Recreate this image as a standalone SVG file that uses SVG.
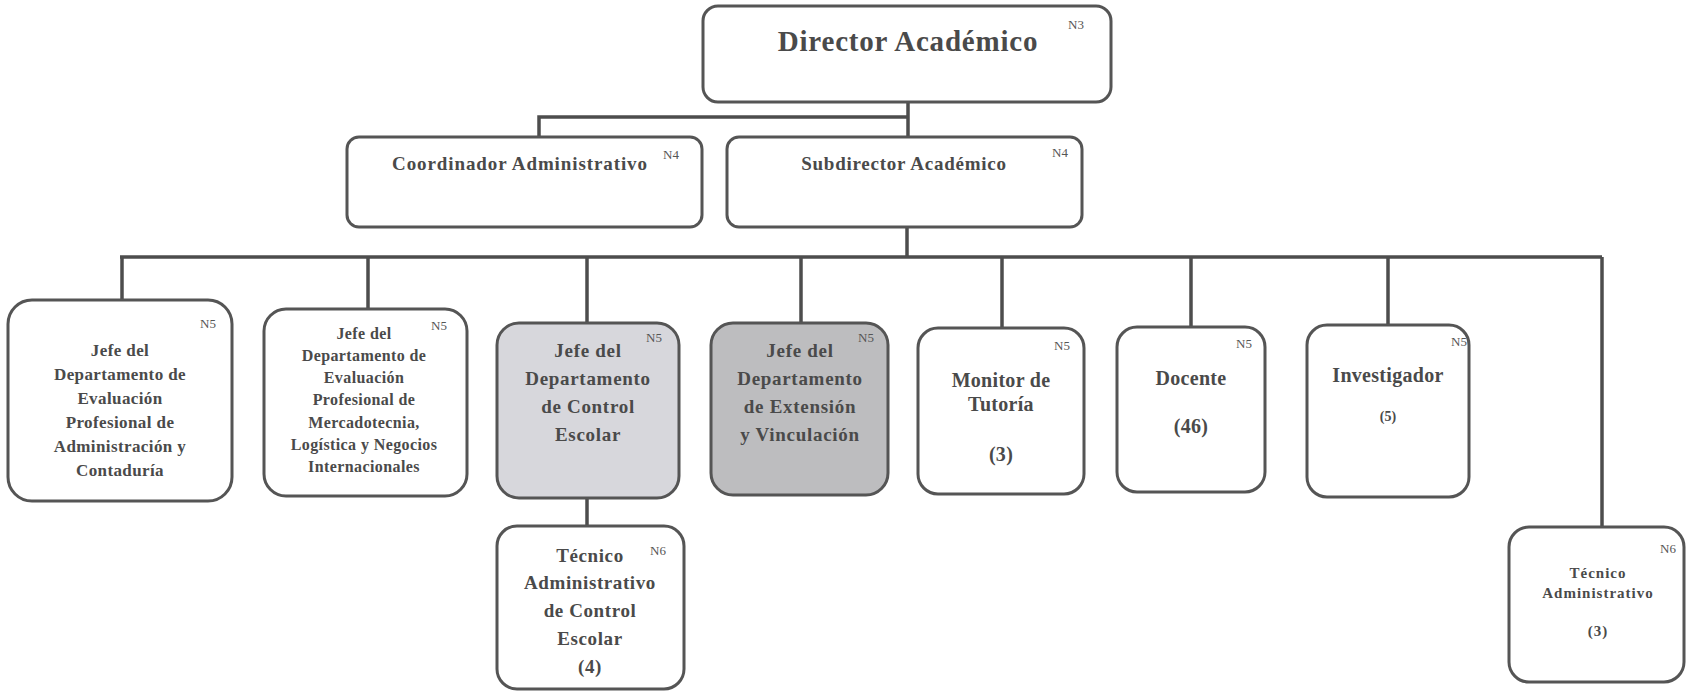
<svg xmlns="http://www.w3.org/2000/svg" width="1686" height="691" viewBox="0 0 1686 691">
<style>
.box{fill:#ffffff;stroke:#555555;stroke-width:3}
.g1{fill:#d7d7dc}
.g2{fill:#bdbdbf}
.t{font-family:"Liberation Serif","Times New Roman",serif;font-weight:bold;fill:#4a4a4a;text-anchor:middle}
.n{font-family:"Liberation Serif","Times New Roman",serif;font-size:13px;fill:#555555}
.c{fill:none;stroke:#4d4d4d;stroke-width:3.5}
</style>
<rect width="1686" height="691" fill="#ffffff"/>
<g id="connectors">
<path class="c" d="M908 102 V137 M908 117 H539 V137"/>
<path class="c" d="M907 227 V257 M120 257 H1602 M122 257 V301 M368 257 V309 M587 257 V323 M801 257 V323 M1002 257 V328 M1191 257 V327 M1388 257 V325 M1602 257 V527"/>
<path class="c" d="M587 498 V526"/>
</g>
<g id="director">
<rect class="box" x="703" y="6" width="408" height="96" rx="15"/>
<text class="t" x="908" y="51" font-size="29" letter-spacing="0.8">Director Académico</text>
<text class="n" x="1068" y="29">N3</text>
</g>
<g id="coordinador">
<rect class="box" x="347" y="137" width="355" height="90" rx="12"/>
<text class="t" x="520" y="170" font-size="19" letter-spacing="0.9">Coordinador Administrativo</text>
<text class="n" x="663" y="159">N4</text>
</g>
<g id="subdirector">
<rect class="box" x="727" y="137" width="355" height="90" rx="12"/>
<text class="t" x="904" y="170" font-size="19" letter-spacing="0.75">Subdirector Académico</text>
<text class="n" x="1052" y="157">N4</text>
</g>
<g id="jefe-admin-contaduria">
<rect class="box" x="8" y="300" width="224" height="201" rx="24"/>
<text class="t" font-size="17" letter-spacing="0.4"><tspan x="120" y="356">Jefe del</tspan><tspan x="120" y="380">Departamento de</tspan><tspan x="120" y="404">Evaluación</tspan><tspan x="120" y="428">Profesional de</tspan><tspan x="120" y="452">Administración y</tspan><tspan x="120" y="476">Contaduría</tspan></text>
<text class="n" x="200" y="328">N5</text>
</g>
<g id="jefe-mercadotecnia">
<rect class="box" x="264" y="309" width="203" height="187" rx="22"/>
<text class="t" font-size="16" letter-spacing="0.4"><tspan x="364" y="339">Jefe del</tspan><tspan x="364" y="361">Departamento de</tspan><tspan x="364" y="383">Evaluación</tspan><tspan x="364" y="405">Profesional de</tspan><tspan x="364" y="428">Mercadotecnia,</tspan><tspan x="364" y="450">Logística y Negocios</tspan><tspan x="364" y="472">Internacionales</tspan></text>
<text class="n" x="431" y="330">N5</text>
</g>
<g id="jefe-control-escolar">
<rect class="box g1" x="497" y="323" width="182" height="175" rx="22"/>
<text class="t" font-size="19" letter-spacing="0.7"><tspan x="588" y="357">Jefe del</tspan><tspan x="588" y="385">Departamento</tspan><tspan x="588" y="413">de Control</tspan><tspan x="588" y="441">Escolar</tspan></text>
<text class="n" x="646" y="342">N5</text>
</g>
<g id="jefe-extension">
<rect class="box g2" x="711" y="323" width="177" height="172" rx="22"/>
<text class="t" font-size="19" letter-spacing="0.7"><tspan x="800" y="357">Jefe del</tspan><tspan x="800" y="385">Departamento</tspan><tspan x="800" y="413">de Extensión</tspan><tspan x="800" y="441">y Vinculación</tspan></text>
<text class="n" x="858" y="342">N5</text>
</g>
<g id="monitor-tutoria">
<rect class="box" x="918" y="328" width="166" height="166" rx="20"/>
<text class="t" font-size="20" letter-spacing="0.3"><tspan x="1001" y="387">Monitor de</tspan><tspan x="1001" y="411">Tutoría</tspan><tspan x="1001" y="461">(3)</tspan></text>
<text class="n" x="1054" y="350">N5</text>
</g>
<g id="docente">
<rect class="box" x="1117" y="327" width="148" height="165" rx="20"/>
<text class="t" font-size="20" letter-spacing="0.3"><tspan x="1191" y="385">Docente</tspan><tspan x="1191" y="433">(46)</tspan></text>
<text class="n" x="1236" y="348">N5</text>
</g>
<g id="investigador">
<rect class="box" x="1307" y="325" width="162" height="172" rx="20"/>
<text class="t" x="1388" y="382" font-size="20" letter-spacing="0.3">Investigador</text>
<text class="t" x="1388" y="421" font-size="14">(5)</text>
<text class="n" x="1451" y="346">N5</text>
</g>
<g id="tecnico-control-escolar">
<rect class="box" x="497" y="526" width="187" height="163" rx="20"/>
<text class="t" font-size="19" letter-spacing="0.6"><tspan x="590" y="562">Técnico</tspan><tspan x="590" y="589">Administrativo</tspan><tspan x="590" y="617">de Control</tspan><tspan x="590" y="645">Escolar</tspan><tspan x="590" y="673">(4)</tspan></text>
<text class="n" x="650" y="555">N6</text>
</g>
<g id="tecnico-administrativo">
<rect class="box" x="1509" y="527" width="175" height="155" rx="20"/>
<text class="t" font-size="15" letter-spacing="1"><tspan x="1598" y="578">Técnico</tspan><tspan x="1598" y="598">Administrativo</tspan><tspan x="1598" y="636">(3)</tspan></text>
<text class="n" x="1660" y="553">N6</text>
</g>
</svg>
